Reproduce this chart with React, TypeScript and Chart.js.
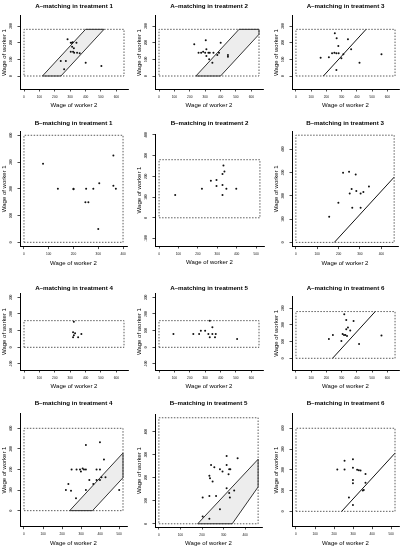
import { useEffect, useRef } from 'react';
import { Chart, registerables } from 'chart.js';

Chart.register(...registerables);

const FONT = '"Liberation Sans", Arial, Helvetica, sans-serif';

// ---- Observed wage pairs: worker 2 (x) and worker 1 (y) ----
const A1_WORKER2 = [283, 304, 311, 317, 341, 313, 324, 304, 319, 326, 345, 362, 239, 272, 261, 401, 503];
const A1_WORKER1 = [220, 200, 200, 202, 200, 176, 166, 146, 146, 140, 140, 136, 90, 90, 40, 80, 60];

const A2_WORKER2 = [229, 304, 257, 274, 287, 308, 300, 321, 330, 354, 379, 390, 401, 308, 326, 347, 448, 448];
const A2_WORKER1 = [190, 215, 140, 140, 146, 160, 140, 140, 140, 140, 126, 140, 200, 120, 100, 80, 126, 116];

const A3_WORKER2 = [255, 267, 341, 278, 362, 237, 252, 265, 280, 216, 162, 311, 298, 417, 265, 561];
const A3_WORKER1 = [256, 226, 220, 180, 160, 136, 140, 136, 136, 112, 110, 130, 106, 80, 36, 130];

const B1_WORKER2 = [77, 137, 200, 200, 251, 280, 248, 260, 300, 304, 361, 361, 371];
const B1_WORKER1 = [294, 200, 200, 198, 200, 200, 150, 150, 50, 221, 324, 211, 200];

const B2_WORKER2 = [332, 337, 327, 296, 267, 296, 221, 347, 327, 327, 398, 83];
const B2_WORKER1 = [252, 223, 211, 182, 179, 153, 140, 140, 158, 110, 140, 110];

const B3_WORKER2 = [221, 249, 280, 261, 283, 252, 303, 316, 342, 199, 264, 303, 156];
const B3_WORKER1 = [299, 303, 291, 229, 221, 210, 210, 216, 240, 170, 149, 149, 110];

const A4_WORKER2 = [324, 319, 332, 324, 319, 352, 373];
const A4_WORKER1 = [154, 90, 84, 72, 60, 60, 80];

const A5_WORKER2 = [94, 223, 261, 272, 300, 321, 330, 347, 347, 369, 364, 330, 508];
const A5_WORKER1 = [80, 80, 80, 100, 100, 80, 60, 120, 80, 80, 60, 160, 50];

const A6_WORKER2 = [317, 330, 378, 341, 330, 356, 306, 315, 324, 335, 242, 216, 298, 414, 561];
const A6_WORKER1 = [264, 230, 224, 184, 174, 166, 146, 140, 140, 134, 140, 116, 104, 86, 136];

const B4_WORKER2 = [325, 399, 420, 250, 276, 294, 308, 299, 315, 325, 381, 399, 343, 381, 399, 407, 428, 233, 220, 247, 325, 364, 273, 500];
const B4_WORKER1 = [319, 332, 249, 200, 200, 200, 205, 190, 200, 200, 200, 200, 149, 149, 149, 162, 162, 130, 100, 97, 100, 130, 60, 100];

const B5_WORKER2 = [314, 365, 242, 257, 283, 295, 314, 326, 331, 323, 234, 237, 249, 314, 326, 349, 329, 203, 234, 265, 283, 203, 234];
const B5_WORKER1 = [294, 284, 255, 245, 237, 227, 255, 237, 237, 215, 208, 198, 183, 154, 133, 144, 114, 114, 121, 121, 63, 32, 22];

const B6_WORKER2 = [299, 255, 217, 255, 299, 321, 330, 339, 365, 299, 299, 351, 356, 365, 278, 299];
const B6_WORKER1 = [251, 243, 202, 202, 210, 200, 198, 196, 180, 151, 135, 100, 103, 138, 67, 31];

// ---- Feasible wage boxes: upper bounds [worker 2, worker 1] ----
const BOUND_A_WIDE = [650, 280];
const BOUND_A_LOW = [650, 160];
const BOUND_B1 = [400, 400];
const BOUND_B2 = [520, 280];
const BOUND_B_SQUARE = [460, 460];
const BOUND_B_WIDE = [520, 400];

// ---- Matching regions (shaded bands) and boundary lines ----
const A1_BAND_WORKER2 = [120, 240, 520, 400, 120];
const A1_BAND_WORKER1 = [0, 0, 280, 280, 0];
const A2_BAND_WORKER2 = [240, 400, 650, 650, 520, 240];
const A2_BAND_WORKER1 = [0, 0, 250, 280, 280, 0];
const B4_BAND_WORKER2 = [240, 360, 520, 520, 240];
const B4_BAND_WORKER1 = [0, 0, 160, 280, 0];
const B5_BAND_WORKER2 = [180, 340, 460, 460, 180];
const B5_BAND_WORKER1 = [0, 0, 160, 280, 0];

const LINE_180_WORKER2 = [180, 460];
const LINE_180_WORKER1 = [0, 280];
const LINE_240_WORKER2 = [240, 520];
const LINE_240_WORKER1 = [0, 280];

// ---- Tick labels ----
const TICKS_0_600 = [0, 100, 200, 300, 400, 500, 600];
const TICKS_0_500 = [0, 100, 200, 300, 400, 500];
const TICKS_0_400 = [0, 100, 200, 300, 400];
const TICKS_0_300 = [0, 100, 200, 300];
const TICKS_M100_300 = [-100, 0, 100, 200, 300];
const TICKS_M100_400 = [-100, 0, 100, 200, 300, 400];

type Spec = {
  title: string;
  w2: number[];
  w1: number[];
  bound: number[];
  bandW2?: number[];
  bandW1?: number[];
  lineW2?: number[];
  lineW1?: number[];
  xRange: [number, number];
  yRange: [number, number];
  xTicks: number[];
  yTicks: number[];
  box: [number, number, number, number]; // plot area: left, top, right, bottom (page px)
  titleY: number;
};

const PANELS: Spec[] = [
  { title: 'A–matching in treatment 1', w2: A1_WORKER2, w1: A1_WORKER1, bound: BOUND_A_WIDE, bandW2: A1_BAND_WORKER2, bandW1: A1_BAND_WORKER1,
    xRange: [-26, 676], yRange: [-78, 360], xTicks: TICKS_0_600, yTicks: TICKS_0_300, box: [20, 16, 128.4, 89], titleY: 6 },
  { title: 'A–matching in treatment 2', w2: A2_WORKER2, w1: A2_WORKER1, bound: BOUND_A_WIDE, bandW2: A2_BAND_WORKER2, bandW1: A2_BAND_WORKER1,
    xRange: [-26, 676], yRange: [-78, 360], xTicks: TICKS_0_600, yTicks: TICKS_0_300, box: [155, 16, 264, 89], titleY: 6 },
  { title: 'A–matching in treatment 3', w2: A3_WORKER2, w1: A3_WORKER1, bound: BOUND_A_WIDE, lineW2: LINE_180_WORKER2, lineW1: LINE_180_WORKER1,
    xRange: [-26, 676], yRange: [-78, 360], xTicks: TICKS_0_600, yTicks: TICKS_0_300, box: [292, 16, 400, 89], titleY: 6 },

  { title: 'B–matching in treatment 1', w2: B1_WORKER2, w1: B1_WORKER1, bound: BOUND_B1,
    xRange: [-16, 416], yRange: [-16, 416], xTicks: TICKS_0_400, yTicks: TICKS_0_400, box: [20, 131, 128, 246.6], titleY: 123 },
  { title: 'B–matching in treatment 2', w2: B2_WORKER2, w1: B2_WORKER1, bound: BOUND_B2,
    xRange: [-21, 541], yRange: [-136, 404], xTicks: TICKS_0_500, yTicks: TICKS_M100_400, box: [155, 134, 265, 246], titleY: 123 },
  { title: 'B–matching in treatment 3', w2: B3_WORKER2, w1: B3_WORKER1, bound: BOUND_B_SQUARE, lineW2: LINE_180_WORKER2, lineW1: LINE_180_WORKER1,
    xRange: [-18, 478], yRange: [-18, 478], xTicks: TICKS_0_400, yTicks: TICKS_0_400, box: [292, 131, 398.4, 246.6], titleY: 123 },

  { title: 'A–matching in treatment 4', w2: A4_WORKER2, w1: A4_WORKER1, bound: BOUND_A_LOW,
    xRange: [-26, 676], yRange: [-136, 324], xTicks: TICKS_0_600, yTicks: TICKS_M100_300, box: [20, 293.3, 128.4, 370], titleY: 288 },
  { title: 'A–matching in treatment 5', w2: A5_WORKER2, w1: A5_WORKER1, bound: BOUND_A_LOW,
    xRange: [-26, 676], yRange: [-136, 324], xTicks: TICKS_0_600, yTicks: TICKS_M100_300, box: [155, 293.3, 264, 370], titleY: 288 },
  { title: 'A–matching in treatment 6', w2: A6_WORKER2, w1: A6_WORKER1, bound: BOUND_A_WIDE, lineW2: LINE_240_WORKER2, lineW1: LINE_240_WORKER1,
    xRange: [-26, 676], yRange: [-70, 369], xTicks: TICKS_0_600, yTicks: TICKS_0_300, box: [292, 296.7, 400, 370], titleY: 288 },

  { title: 'B–matching in treatment 4', w2: B4_WORKER2, w1: B4_WORKER1, bound: BOUND_B_WIDE, bandW2: B4_BAND_WORKER2, bandW1: B4_BAND_WORKER1,
    xRange: [-21, 541], yRange: [-78, 473], xTicks: TICKS_0_500, yTicks: TICKS_0_400, box: [20, 413.3, 127.3, 526.7], titleY: 403 },
  { title: 'B–matching in treatment 5', w2: B5_WORKER2, w1: B5_WORKER1, bound: BOUND_B_SQUARE, bandW2: B5_BAND_WORKER2, bandW1: B5_BAND_WORKER1,
    xRange: [-18, 478], yRange: [-14, 475], xTicks: TICKS_0_400, yTicks: TICKS_0_400, box: [155, 414.3, 262.8, 527], titleY: 403 },
  { title: 'B–matching in treatment 6', w2: B6_WORKER2, w1: B6_WORKER1, bound: BOUND_B_WIDE, lineW2: LINE_240_WORKER2, lineW1: LINE_240_WORKER1,
    xRange: [-21, 541], yRange: [-74, 472], xTicks: TICKS_0_500, yTicks: TICKS_0_400, box: [292, 413.3, 400, 526.7], titleY: 403 },
];

const TITLE_SIZE = 6.2;
const AXIS_TITLE_SIZE = 6;
const TICK_SIZE = 3.2;
const LH = 1.2;

function geometry(s: Spec) {
  const [l, t, r, b] = s.box;
  const left = Math.max(0, Math.floor(l - 21));
  const top = Math.max(0, Math.floor(s.titleY - 6));
  const right = Math.ceil(r + 3);
  const bottom = Math.ceil(b + 21);
  return { l, t, r, b, left, top, w: right - left, h: bottom - top, yw: l - left, xh: bottom - b, padRight: right - r };
}

function pts(xs: number[], ys: number[]) {
  return xs.map((x, i) => ({ x, y: ys[i] }));
}

function boxOutline(bound: number[]) {
  const [bx, by] = bound;
  return pts([0, bx, bx, 0, 0], [0, 0, by, by, 0]);
}

function buildConfig(s: Spec, g: ReturnType<typeof geometry>): any {
  const titleLh = TITLE_SIZE * LH;
  const axisLh = AXIS_TITLE_SIZE * LH;
  const titleTop = s.titleY - g.top - titleLh / 2;
  const titleBottom = g.t - g.top - titleTop - titleLh;

  const datasets: any[] = [
    {
      data: pts(s.w2, s.w1),
      pointRadius: 1,
      pointBackgroundColor: '#111',
      pointBorderWidth: 0,
      showLine: false,
    },
  ];
  if (s.lineW2 && s.lineW1) {
    datasets.push({
      data: pts(s.lineW2, s.lineW1),
      showLine: true,
      pointRadius: 0,
      borderColor: '#111',
      borderWidth: 1,
      fill: false,
    });
  }
  datasets.push({
    data: boxOutline(s.bound),
    showLine: true,
    pointRadius: 0,
    borderColor: '#333',
    borderWidth: 0.8,
    borderDash: [1.5, 1.5],
    fill: false,
  });
  if (s.bandW2 && s.bandW1) {
    datasets.push({
      data: pts(s.bandW2, s.bandW1),
      showLine: true,
      pointRadius: 0,
      borderColor: '#333',
      borderWidth: 1,
      backgroundColor: '#ededed',
      fill: 'shape',
    });
  }

  const grid = { display: true, drawOnChartArea: false, drawTicks: true, tickLength: 2.5, color: '#000', lineWidth: 0.7 };
  const border = { display: true, color: '#000', width: 1 };

  return {
    type: 'scatter',
    data: { datasets },
    options: {
      responsive: false,
      animation: false,
      devicePixelRatio: 1,
      events: [],
      layout: { padding: { left: 0, right: g.padRight, top: 0, bottom: 0 } },
      plugins: {
        legend: { display: false },
        tooltip: { enabled: false },
        title: {
          display: true,
          fullSize: false,
          text: s.title,
          color: '#000',
          font: { family: FONT, size: TITLE_SIZE, weight: 'bold', lineHeight: LH },
          padding: { top: titleTop, bottom: titleBottom },
        },
      },
      scales: {
        x: {
          type: 'linear',
          min: s.xRange[0],
          max: s.xRange[1],
          afterBuildTicks: (sc: any) => { sc.ticks = s.xTicks.map((v) => ({ value: v })); },
          afterFit: (sc: any) => { sc.height = g.xh; },
          grid,
          border,
          ticks: { color: '#111', font: { family: FONT, size: TICK_SIZE }, padding: 3.2, maxRotation: 0, autoSkip: false },
          title: {
            display: true,
            text: 'Wage of worker 2',
            color: '#000',
            font: { family: FONT, size: AXIS_TITLE_SIZE, lineHeight: LH },
            padding: { top: 0, bottom: Math.max(0, g.xh - 16.5 - axisLh / 2) },
          },
        },
        y: {
          type: 'linear',
          min: s.yRange[0],
          max: s.yRange[1],
          afterBuildTicks: (sc: any) => { sc.ticks = s.yTicks.map((v) => ({ value: v })); },
          afterFit: (sc: any) => { sc.width = g.yw; },
          grid,
          border,
          ticks: {
            color: '#111',
            font: { family: FONT, size: TICK_SIZE },
            minRotation: 90,
            maxRotation: 90,
            crossAlign: 'center',
            padding: 3.5,
            autoSkip: false,
          },
          title: {
            display: true,
            text: 'Wage of worker 1',
            color: '#000',
            font: { family: FONT, size: AXIS_TITLE_SIZE, lineHeight: LH },
            padding: { top: Math.max(0, g.yw - 16 - axisLh / 2), bottom: 0 },
          },
        },
      },
    },
  };
}

function Panel({ spec }: { spec: Spec }) {
  const ref = useRef<HTMLCanvasElement>(null);
  const g = geometry(spec);
  useEffect(() => {
    const chart = new Chart(ref.current as HTMLCanvasElement, buildConfig(spec, g));
    return () => chart.destroy();
  }, []);
  return (
    <canvas
      ref={ref}
      width={g.w}
      height={g.h}
      style={{ position: 'absolute', left: g.left, top: g.top, width: g.w, height: g.h }}
    />
  );
}

export default function App() {
  return (
    <div style={{ position: 'absolute', left: 0, top: 0, width: 401, height: 547, background: '#fff', overflow: 'hidden' }}>
      {PANELS.map((p, i) => (
        <Panel key={i} spec={p} />
      ))}
    </div>
  );
}
